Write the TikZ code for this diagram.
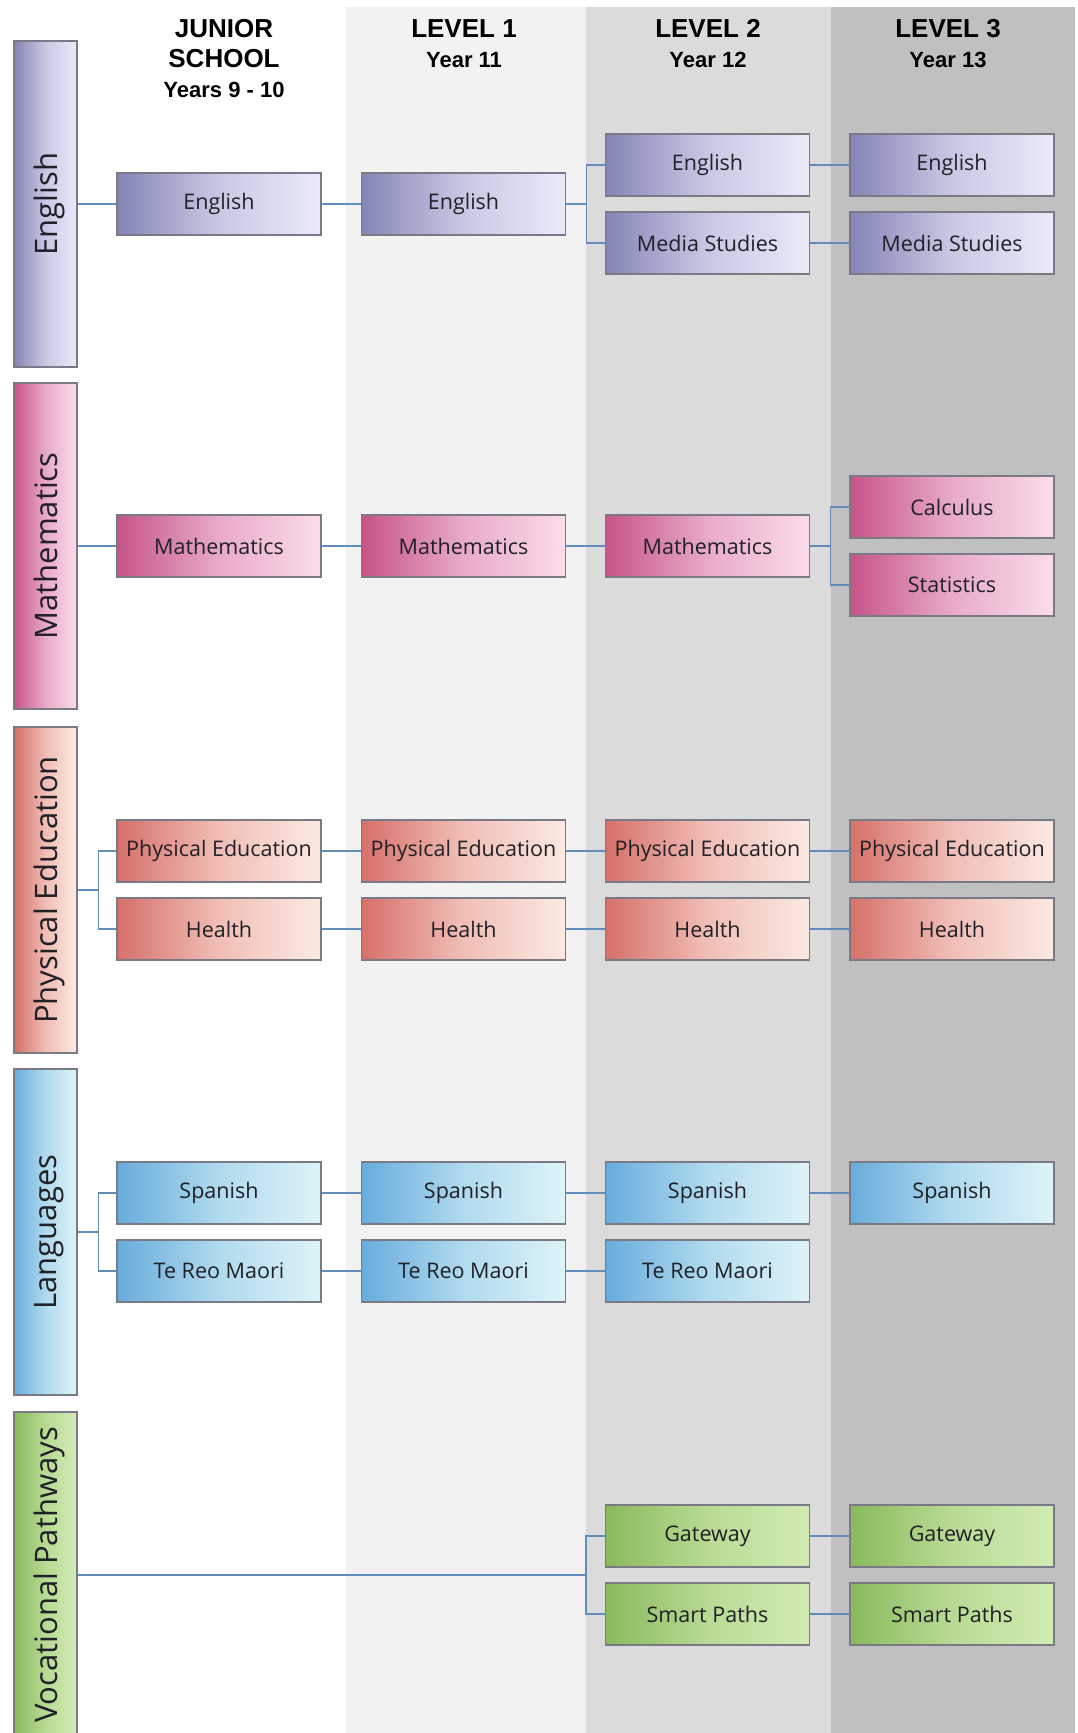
\documentclass[tikz,border=0pt]{standalone}
\usepackage{fontspec}
\setmainfont{Open Sans}
\newfontfamily\headFont{Liberation Sans}
\usetikzlibrary{positioning}
\tikzstyle{chart} = [x = 1pt, y = -1pt]
\definecolor{lineColor}{RGB}{98,140,186}
\definecolor{edgeColor}{RGB}{122,122,134}
\definecolor{textColor}{RGB}{32,32,38}
\definecolor{levelOneColor}{RGB}{242,242,242}
\definecolor{levelTwoColor}{RGB}{219,219,219}
\definecolor{levelThreeColor}{RGB}{192,192,192}
\definecolor{englishDark}{RGB}{132,132,182}
\definecolor{englishMid}{RGB}{200,200,228}
\definecolor{englishLight}{RGB}{234,234,250}
\definecolor{mathsDark}{RGB}{198,84,136}
\definecolor{mathsMid}{RGB}{232,170,200}
\definecolor{mathsLight}{RGB}{251,220,234}
\definecolor{physedDark}{RGB}{214,112,106}
\definecolor{physedMid}{RGB}{240,190,182}
\definecolor{physedLight}{RGB}{251,234,226}
\definecolor{langDark}{RGB}{104,172,220}
\definecolor{langMid}{RGB}{176,218,238}
\definecolor{langLight}{RGB}{222,243,248}
\definecolor{vocDark}{RGB}{138,186,92}
\definecolor{vocMid}{RGB}{184,218,148}
\definecolor{vocLight}{RGB}{210,236,180}
\tikzstyle{subjectStyle} = [draw=edgeColor, line width=1.2pt, minimum width=204pt, minimum height=62pt, inner sep=0pt, text=textColor, font=\fontsize{21.5}{25}\selectfont]
\tikzstyle{barStyle} = [draw=edgeColor, line width=1.2pt, minimum width=63pt, minimum height=326pt, inner sep=0pt, text=textColor, font=\fontsize{31}{36}\selectfont]
\tikzstyle{headStyle} = [anchor=north, align=center, inner sep=0pt, font=\headFont\bfseries\fontsize{26}{30}\selectfont]
\tikzstyle{link} = [draw=lineColor, line width=1.4pt]
\newcommand{\yearFont}{\fontsize{22}{30}\selectfont}
\newcommand{\colJunior}{219}
\newcommand{\colOne}{463.5}
\newcommand{\colTwo}{707.5}
\newcommand{\colThree}{952}
\newcommand{\subjectBox}[5]{\node [subjectStyle, left color=#4Dark, right color=#4Light, middle color=#4Mid] (#1) at (#2, #3) {#5};}
\newcommand{\areaBar}[4]{\node [barStyle, left color=#3Dark, right color=#3Light, middle color=#3Mid] (#1) at (45.5, #2) {\rotatebox{90}{\raisebox{0pt}[\height][0pt]{#4}}};}
\newcommand{\levelBand}[3]{\fill [#3] (#1, 7) rectangle (#2, 1733);}

\begin{document}
\begin{tikzpicture}[chart]
  \useasboundingbox (0,0) rectangle (1077,1733);
  % column bands
  \levelBand{346}{586}{levelOneColor}
  \levelBand{586}{831}{levelTwoColor}
  \levelBand{831}{1075}{levelThreeColor}
  % headers
  \node [headStyle] (juniorHead) at (224, 19) {JUNIOR\\SCHOOL\\{\yearFont Years 9 - 10}};
  \node [headStyle] (oneHead) at (464, 19) {LEVEL 1\\{\yearFont Year 11}};
  \node [headStyle] (twoHead) at (708, 19) {LEVEL 2\\{\yearFont Year 12}};
  \node [headStyle] (threeHead) at (948, 19) {LEVEL 3\\{\yearFont Year 13}};
  % learning areas
  \areaBar{english}{204}{english}{English}
  \areaBar{maths}{546}{maths}{Mathematics}
  \areaBar{physed}{890}{physed}{Physical Education}
  \areaBar{lang}{1232}{lang}{Languages}
  \areaBar{vocational}{1575}{voc}{Vocational Pathways}
  % english
  \subjectBox{engJ}{\colJunior}{204}{english}{English}
  \subjectBox{engOne}{\colOne}{204}{english}{English}
  \subjectBox{engTwo}{\colTwo}{165}{english}{English}
  \subjectBox{mediaTwo}{\colTwo}{243}{english}{Media Studies}
  \subjectBox{engThree}{\colThree}{165}{english}{English}
  \subjectBox{mediaThree}{\colThree}{243}{english}{Media Studies}
  % mathematics
  \subjectBox{mathJ}{\colJunior}{546}{maths}{Mathematics}
  \subjectBox{mathOne}{\colOne}{546}{maths}{Mathematics}
  \subjectBox{mathTwo}{\colTwo}{546}{maths}{Mathematics}
  \subjectBox{calcThree}{\colThree}{507}{maths}{Calculus}
  \subjectBox{statsThree}{\colThree}{585}{maths}{Statistics}
  % physical education
  \subjectBox{peJ}{\colJunior}{851}{physed}{Physical Education}
  \subjectBox{peOne}{\colOne}{851}{physed}{Physical Education}
  \subjectBox{peTwo}{\colTwo}{851}{physed}{Physical Education}
  \subjectBox{peThree}{\colThree}{851}{physed}{Physical Education}
  \subjectBox{healthJ}{\colJunior}{929}{physed}{Health}
  \subjectBox{healthOne}{\colOne}{929}{physed}{Health}
  \subjectBox{healthTwo}{\colTwo}{929}{physed}{Health}
  \subjectBox{healthThree}{\colThree}{929}{physed}{Health}
  % languages
  \subjectBox{spanJ}{\colJunior}{1193}{lang}{Spanish}
  \subjectBox{spanOne}{\colOne}{1193}{lang}{Spanish}
  \subjectBox{spanTwo}{\colTwo}{1193}{lang}{Spanish}
  \subjectBox{spanThree}{\colThree}{1193}{lang}{Spanish}
  \subjectBox{reoJ}{\colJunior}{1271}{lang}{Te Reo Maori}
  \subjectBox{reoOne}{\colOne}{1271}{lang}{Te Reo Maori}
  \subjectBox{reoTwo}{\colTwo}{1271}{lang}{Te Reo Maori}
  % vocational pathways
  \subjectBox{gateTwo}{\colTwo}{1536}{voc}{Gateway}
  \subjectBox{gateThree}{\colThree}{1536}{voc}{Gateway}
  \subjectBox{smartTwo}{\colTwo}{1614}{voc}{Smart Paths}
  \subjectBox{smartThree}{\colThree}{1614}{voc}{Smart Paths}
  % straight links
  \foreach \from/\to in {english/engJ, engJ/engOne, engTwo/engThree, mediaTwo/mediaThree,
      maths/mathJ, mathJ/mathOne, mathOne/mathTwo,
      peJ/peOne, peOne/peTwo, peTwo/peThree, healthJ/healthOne, healthOne/healthTwo, healthTwo/healthThree,
      spanJ/spanOne, spanOne/spanTwo, spanTwo/spanThree, reoJ/reoOne, reoOne/reoTwo,
      gateTwo/gateThree, smartTwo/smartThree}
    \draw [link] (\from) -- (\to);
  % forks
  \draw [link] (engOne.east) -- ++(20.5,0) |- (engTwo.west);
  \draw [link] (engOne.east) -- ++(20.5,0) |- (mediaTwo.west);
  \draw [link] (mathTwo.east) -- ++(20.5,0) |- (calcThree.west);
  \draw [link] (mathTwo.east) -- ++(20.5,0) |- (statsThree.west);
  \draw [link] (physed.east) -- ++(21,0) |- (peJ.west);
  \draw [link] (physed.east) -- ++(21,0) |- (healthJ.west);
  \draw [link] (lang.east) -- ++(21,0) |- (spanJ.west);
  \draw [link] (lang.east) -- ++(21,0) |- (reoJ.west);
  \coordinate (vocFork) at (586, 1575);
  \draw [link] (vocational.east) -- (vocFork) |- (gateTwo.west);
  \draw [link] (vocFork) |- (smartTwo.west);
\end{tikzpicture}
\end{document}
